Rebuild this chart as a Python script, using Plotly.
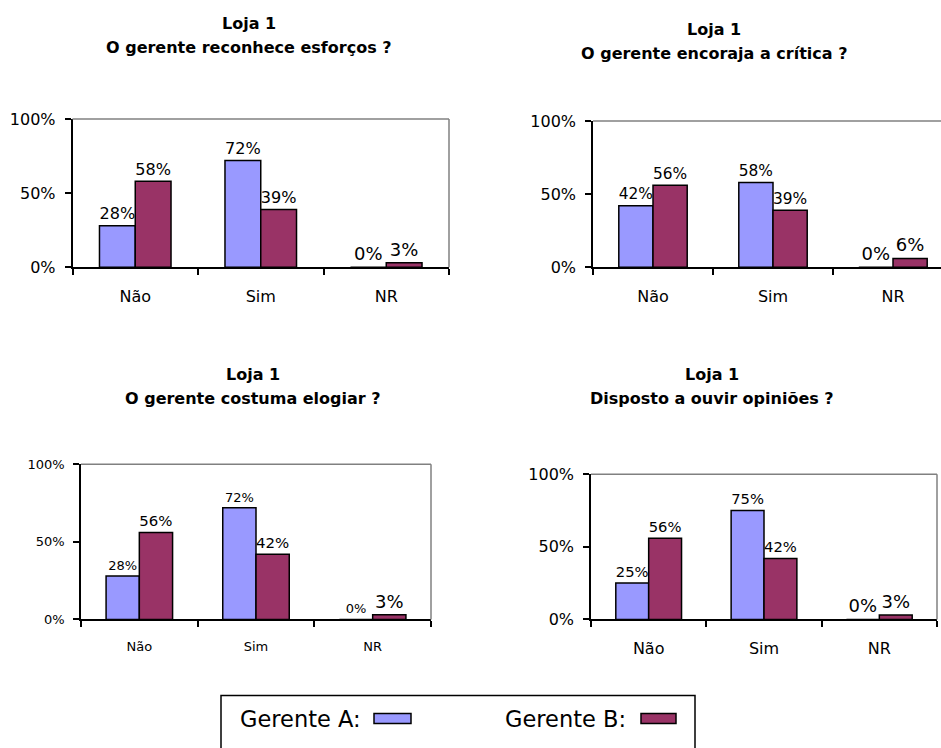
import plotly.graph_objects as go

# ---------------- data ----------------
categories = ["Não", "Sim", "NR"]
series_names = ["Gerente A", "Gerente B"]

q1_title = "O gerente reconhece esforços ?"
q1_a = [0.28, 0.72, 0.00]
q1_b = [0.58, 0.39, 0.03]

q2_title = "O gerente encoraja a crítica ?"
q2_a = [0.42, 0.58, 0.00]
q2_b = [0.56, 0.39, 0.06]

q3_title = "O gerente costuma elogiar ?"
q3_a = [0.28, 0.72, 0.00]
q3_b = [0.56, 0.42, 0.03]

q4_title = "Disposto a ouvir opiniões ?"
q4_a = [0.25, 0.75, 0.00]
q4_b = [0.56, 0.42, 0.03]

store_label = "Loja 1"
y_ticks = [0, 0.5, 1.0]
y_tick_text = ["0%", "50%", "100%"]

# ---------------- style ----------------
W, H = 941, 748
FONT = "DejaVu Sans, Liberation Sans, Arial, sans-serif"
COL_A = "#9999FF"
COL_B = "#993366"

# vertical calibration of the page photo (observed mapping y_out = 0.974*y + 9)
Y_SCALE, Y_OFF = 0.974, 9.0


def px(x):
    return x / W


def py(y):
    y_set = (y - Y_OFF) / Y_SCALE
    return 1 - y_set / H


panels = [
    dict(a=q1_a, b=q1_b, title=q1_title, l=72.5, r=449, t=119, btm=267, xmax=2.5,
         tx=249, ty1=23, ty2=47, tick=16, lab=[18, 18]),
    dict(a=q2_a, b=q2_b, title=q2_title, l=593, r=941, t=121, btm=267, xmax=2.4,
         tx=714, ty1=29, ty2=53, tick=16, lab=[18, 18]),
    dict(a=q3_a, b=q3_b, title=q3_title, l=81, r=431, t=464, btm=619, xmax=2.5,
         tx=253, ty1=374, ty2=398, tick=13, lab=[13, 18]),
    dict(a=q4_a, b=q4_b, title=q4_title, l=591, r=937, t=474, btm=619, xmax=2.5,
         tx=712, ty1=374, ty2=398, tick=16, lab=[18, 18]),
]

fig = go.Figure()
layout = dict(
    width=W, height=H,
    margin=dict(l=0, r=0, t=0, b=0),
    paper_bgcolor="white", plot_bgcolor="white",
    showlegend=False,
    bargap=0.43, bargroupgap=0.0,
    barmode="group",
    font=dict(family=FONT, color="black"),
)
annotations = []
shapes = []

for i, p in enumerate(panels, start=1):
    xa = "x" if i == 1 else f"x{i}"
    ya = "y" if i == 1 else f"y{i}"
    for vals, col, name, fs in ((p["a"], COL_A, series_names[0], p["lab"][0]),
                                (p["b"], COL_B, series_names[1], p["lab"][1])):
        fig.add_trace(go.Bar(
            x=categories, y=vals, name=name,
            marker=dict(color=col, line=dict(color="black", width=1.5)),
            texttemplate="%{y:.0%}", textposition="outside",
            textfont=dict(size=fs, color="black", family=FONT),
            cliponaxis=False,
            xaxis=xa, yaxis=ya,
        ))
    layout[f"xaxis{'' if i == 1 else i}"] = dict(
        domain=[px(p["l"]), px(p["r"])],
        anchor=ya,
        type="category",
        range=[-0.5, p["xmax"]],
        showline=True, linecolor="black", linewidth=1.5,
        ticks="outside", ticklen=6, tickwidth=1.5, tickcolor="black",
        tickson="boundaries",
        ticklabelstandoff=14,
        tickfont=dict(size=p["tick"], family=FONT, color="black"),
        showgrid=False, zeroline=False, fixedrange=True,
    )
    layout[f"yaxis{'' if i == 1 else i}"] = dict(
        domain=[py(p["btm"]), py(p["t"])],
        anchor=xa,
        range=[0, 1],
        tickvals=y_ticks, ticktext=y_tick_text,
        showline=True, linecolor="black", linewidth=1.5,
        ticks="outside", ticklen=6, tickwidth=1.5, tickcolor="black",
        ticklabelstandoff=6,
        tickfont=dict(size=p["tick"], family=FONT, color="black"),
        showgrid=False, zeroline=False, fixedrange=True,
    )
    shapes.append(dict(type="line", xref=f"{xa} domain", yref=f"{ya} domain",
                       x0=0, x1=1, y0=1, y1=1, line=dict(color="#808080", width=1.5)))
    if p["r"] < W - 2:
        shapes.append(dict(type="line", xref=f"{xa} domain", yref=f"{ya} domain",
                           x0=1, x1=1, y0=0, y1=1, line=dict(color="#808080", width=1.5)))
    annotations.append(dict(text=f"<b>{store_label}</b>", xref="paper", yref="paper",
                            x=px(p["tx"]), y=py(p["ty1"]), xanchor="center", yanchor="middle",
                            showarrow=False, font=dict(size=16, family=FONT, color="black")))
    annotations.append(dict(text=f"<b>{p['title']}</b>", xref="paper", yref="paper",
                            x=px(p["tx"]), y=py(p["ty2"]), xanchor="center", yanchor="middle",
                            showarrow=False, font=dict(size=16, family=FONT, color="black")))

# legend box
shapes.append(dict(type="rect", xref="paper", yref="paper",
                   x0=px(221), x1=px(695), y0=py(695), y1=-0.1,
                   line=dict(color="black", width=1.5), fillcolor="rgba(0,0,0,0)"))
for name, col, tx, sx0, sx1 in ((series_names[0], COL_A, 238, 374, 411),
                                (series_names[1], COL_B, 503, 641, 676)):
    annotations.append(dict(text=f"{name}:", xref="paper", yref="paper",
                            x=px(tx), y=py(719), xanchor="left", yanchor="middle",
                            showarrow=False, font=dict(size=22.5, family=FONT, color="black")))
    shapes.append(dict(type="rect", xref="paper", yref="paper",
                       x0=px(sx0), x1=px(sx1), y0=py(723), y1=py(713),
                       fillcolor=col, line=dict(color="black", width=1.5)))

layout["annotations"] = annotations
layout["shapes"] = shapes
fig.update_layout(**layout)
fig.write_html(
    "out.html",
    config={"displayModeBar": False},
    post_script=(
        "document.documentElement.style.margin='0';"
        "document.documentElement.style.overflow='hidden';"
        "document.body.style.margin='0';document.body.style.padding='0';"
        "document.body.style.overflow='hidden';"
        "var d=document.getElementById('{plot_id}');"
        "d.style.position='fixed';d.style.top='0px';d.style.left='0px';"
    ),
)
